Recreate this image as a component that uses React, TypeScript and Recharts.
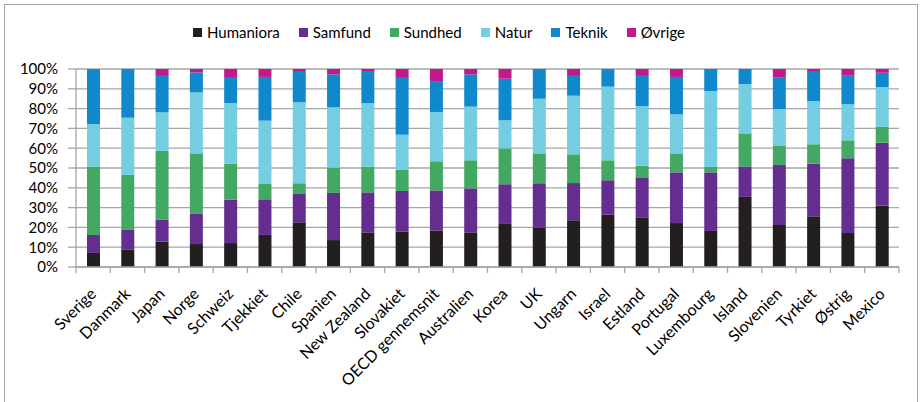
import React from 'react';
import { BarChart, Bar, XAxis, YAxis, CartesianGrid, Legend } from 'recharts';

// Share of graduates by field of study, per country (percent of total)
const CATEGORIES = [
  'Sverige', 'Danmark', 'Japan', 'Norge', 'Schweiz', 'Tjekkiet', 'Chile', 'Spanien',
  'New Zealand', 'Slovakiet', 'OECD gennemsnit', 'Australien', 'Korea', 'UK', 'Ungarn',
  'Israel', 'Estland', 'Portugal', 'Luxembourg', 'Island', 'Slovenien', 'Tyrkiet',
  'Østrig', 'Mexico',
];

const HUMANIORA = [7.1, 8.9, 12.8, 11.6, 12.1, 16.2, 22.6, 13.6, 17.5, 17.8, 18.5, 17.5, 22.1, 20.0, 23.6, 26.4, 25.1, 22.2, 18.2, 35.4, 21.2, 25.6, 17.2, 31.0];
const SAMFUND = [9.1, 10.1, 11.1, 15.2, 21.9, 18.0, 14.6, 23.8, 20.2, 20.6, 20.2, 22.2, 19.7, 22.3, 18.8, 17.4, 20.2, 25.6, 29.6, 15.4, 30.3, 26.6, 37.7, 31.8];
const SUNDHED = [34.6, 27.5, 34.7, 30.6, 18.2, 7.7, 5.1, 12.8, 13.0, 10.6, 14.7, 14.2, 18.1, 15.1, 14.5, 10.1, 5.9, 9.6, 2.7, 16.7, 9.9, 9.8, 9.1, 8.1];
const NATUR = [21.4, 28.9, 19.5, 30.8, 30.6, 32.0, 41.0, 30.4, 32.0, 17.8, 24.9, 27.1, 14.2, 27.6, 29.6, 37.2, 30.1, 19.7, 38.4, 24.9, 18.4, 21.8, 18.2, 20.0];
const TEKNIK = [27.5, 24.6, 18.4, 10.1, 12.7, 22.1, 15.7, 16.7, 16.3, 28.7, 15.6, 16.3, 21.0, 15.0, 10.0, 8.9, 15.2, 18.9, 11.1, 7.6, 15.8, 15.2, 14.7, 7.2];
const OEVRIGE = [0.3, 0.0, 3.5, 1.7, 4.5, 4.0, 1.0, 2.7, 1.0, 4.5, 6.1, 2.7, 4.9, 0.0, 3.5, 0.0, 3.5, 4.0, 0.0, 0.0, 4.4, 1.0, 3.1, 1.9];

const Y_TICKS = [0, 10, 20, 30, 40, 50, 60, 70, 80, 90, 100];

const SERIES = [
  { key: 'Humaniora', values: HUMANIORA, color: '#231f20' },
  { key: 'Samfund', values: SAMFUND, color: '#652d90' },
  { key: 'Sundhed', values: SUNDHED, color: '#43a862' },
  { key: 'Natur', values: NATUR, color: '#74cde1' },
  { key: 'Teknik', values: TEKNIK, color: '#0f89cc' },
  { key: 'Øvrige', values: OEVRIGE, color: '#c1198c' },
];

const data = CATEGORIES.map((name, i) => {
  const row: Record<string, string | number> = { name };
  SERIES.forEach((s) => {
    row[s.key] = s.values[i];
  });
  return row;
});

const WIDTH = 922;
const HEIGHT = 402;
const MARGIN = { top: 69, right: 23, left: 0, bottom: 0 };
const Y_AXIS_WIDTH = 76;
const X_AXIS_HEIGHT = 135;
const PLOT_WIDTH = WIDTH - MARGIN.left - MARGIN.right - Y_AXIS_WIDTH;

const FONT = 'Lato, "Open Sans", sans-serif';
const LINE = '#a6a6a6';

const CategoryTick = (props: any) => {
  const { x, y, payload, index } = props;
  const step = PLOT_WIDTH / CATEGORIES.length;
  const tx = x + 4;
  const ty = y + 28;
  return (
    <g>
      <line x1={x - step / 2} x2={x - step / 2} y1={y} y2={y + 6} stroke={LINE} strokeWidth={1.3} />
      {index === CATEGORIES.length - 1 && (
        <line x1={x + step / 2} x2={x + step / 2} y1={y} y2={y + 6} stroke={LINE} strokeWidth={1.3} />
      )}
      <text
        x={tx}
        y={ty}
        transform={`rotate(-45, ${tx}, ${ty})`}
        textAnchor="end"
        fontFamily={FONT}
        fontSize={16}
        fill="#000"
      >
        {payload.value}
      </text>
    </g>
  );
};

const LegendContent = () => (
  <div style={{ display: 'flex', alignItems: 'center', fontFamily: FONT, fontSize: 15, lineHeight: '20px', color: '#000', whiteSpace: 'nowrap' }}>
    {SERIES.map((s) => (
      <div key={s.key} style={{ display: 'flex', alignItems: 'center', marginRight: 19 }}>
        <span style={{ display: 'inline-block', width: 9, height: 9, background: s.color, marginRight: 5 }} />
        <span>{s.key}</span>
      </div>
    ))}
  </div>
);

export default function App() {
  return (
    <div style={{ position: 'absolute', left: 0, top: 0, width: WIDTH, height: HEIGHT, overflow: 'hidden', background: '#fff' }}>
      <div
        style={{
          position: 'absolute',
          left: 4,
          top: 4,
          width: 914,
          height: 420,
          border: `1px solid ${LINE}`,
          boxSizing: 'border-box',
        }}
      />
      <div style={{ position: 'absolute', left: 0, top: 0 }}>
        <BarChart width={WIDTH} height={HEIGHT} data={data} margin={MARGIN} stackOffset="expand" barSize={13}>
          <CartesianGrid horizontal vertical={false} stroke={LINE} strokeWidth={1.3} />
          <XAxis
            dataKey="name"
            interval={0}
            height={X_AXIS_HEIGHT}
            tickLine={false}
            tickSize={0}
            tickMargin={0}
            axisLine={{ stroke: LINE, strokeWidth: 1.3 }}
            tick={<CategoryTick />}
          />
          <YAxis
            width={Y_AXIS_WIDTH}
            domain={[0, 1]}
            ticks={Y_TICKS.map((t) => t / 100)}
            interval={0}
            tickFormatter={(v: number) => `${Math.round(v * 100)}%`}
            tickSize={8}
            tickMargin={10}
            axisLine={{ stroke: LINE, strokeWidth: 1.3 }}
            tickLine={{ stroke: LINE, strokeWidth: 1.3 }}
            tick={{ fontFamily: FONT, fontSize: 15, fill: '#000' }}
          />
          <Legend
            layout="horizontal"
            verticalAlign="middle"
            align="center"
            wrapperStyle={{ top: 22, left: 193, width: 700, height: 20 }}
            content={<LegendContent />}
          />
          {SERIES.map((s) => (
            <Bar key={s.key} dataKey={s.key} stackId="a" fill={s.color} isAnimationActive={false} />
          ))}
        </BarChart>
      </div>
    </div>
  );
}
